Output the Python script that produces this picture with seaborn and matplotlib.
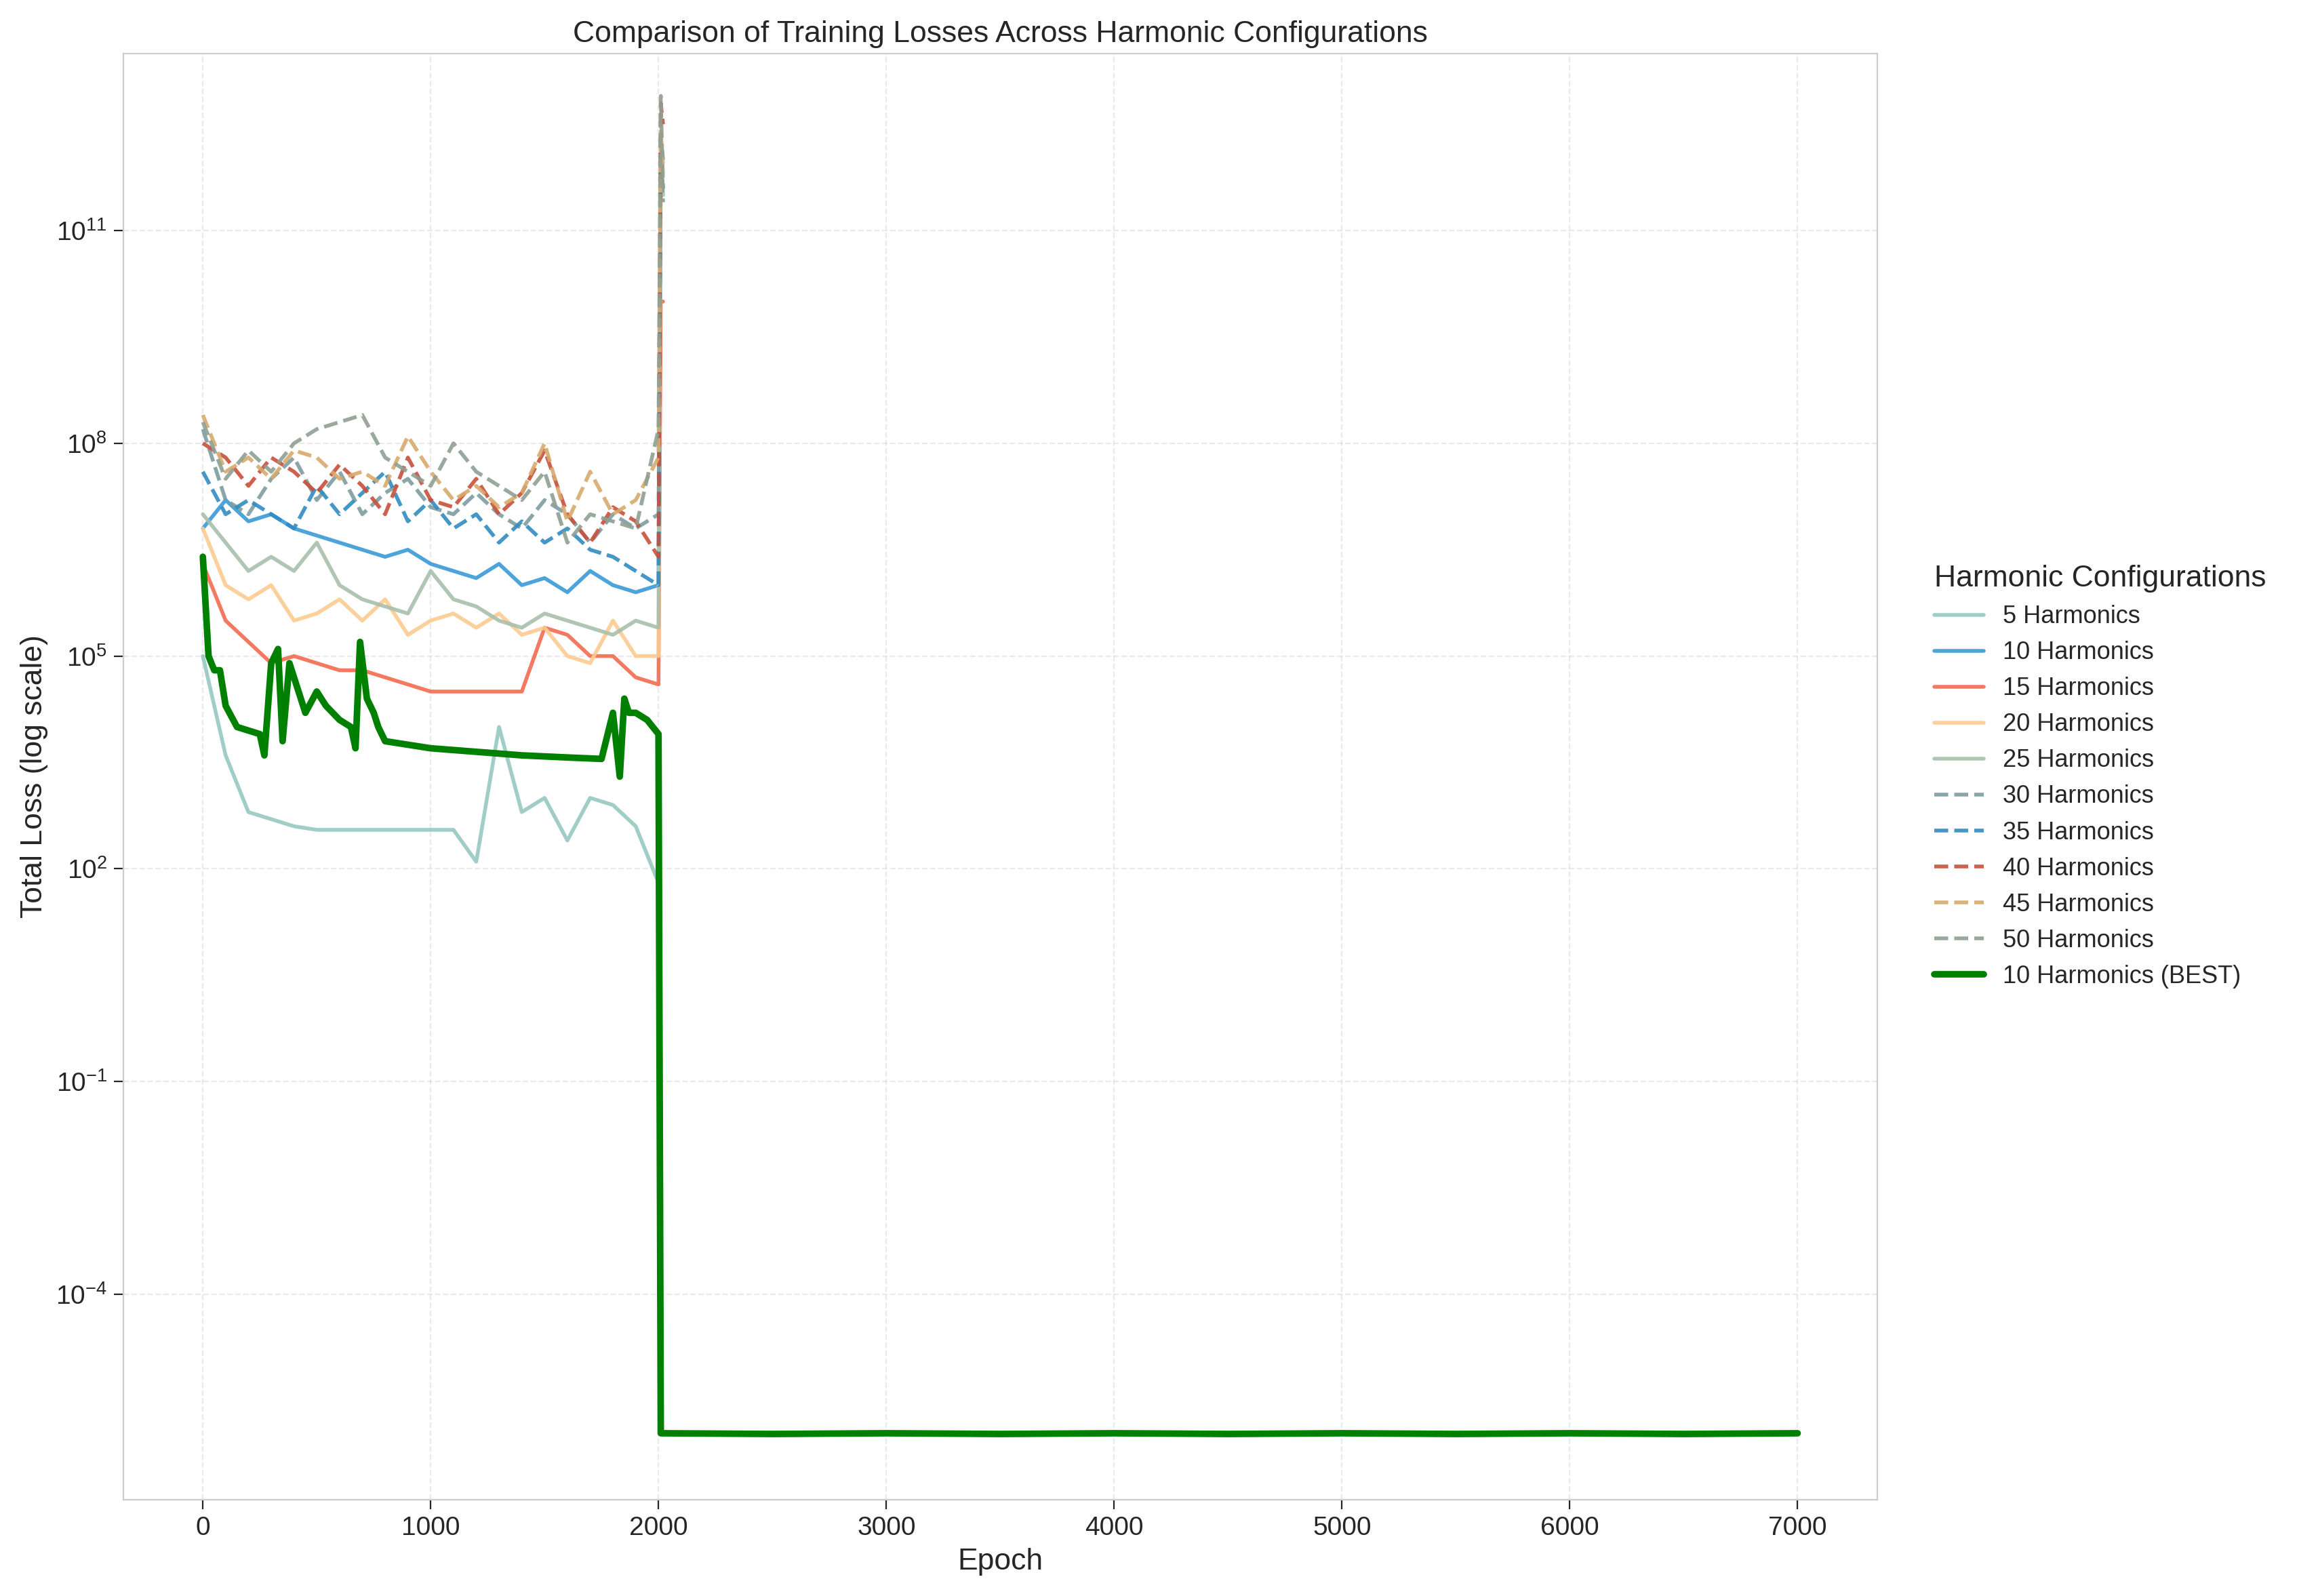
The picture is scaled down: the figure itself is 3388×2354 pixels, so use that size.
import numpy as np
import pandas as pd
import seaborn as sns
import matplotlib.pyplot as plt

# epochs shared by the harmonic runs (last two = divergence spike)
epochs = [0, 100, 200, 300, 400, 500, 600, 700, 800, 900, 1000, 1100, 1200, 1300,
          1400, 1500, 1600, 1700, 1800, 1900, 2000, 2010, 2020]

# log10 of total loss
h5 = [5.0, 3.6, 2.8, 2.7, 2.6, 2.55, 2.55, 2.55, 2.55, 2.55, 2.55, 2.55, 2.1, 4.0, 2.8, 3.0, 2.4, 3.0, 2.9, 2.6, 1.8, np.nan, np.nan]
h10 = [6.8, 7.2, 6.9, 7.0, 6.8, 6.7, 6.6, 6.5, 6.4, 6.5, 6.3, 6.2, 6.1, 6.3, 6.0, 6.1, 5.9, 6.2, 6.0, 5.9, 6.0, 12.0, 11.6]
h15 = [6.3, 5.5, 5.2, 4.9, 5.0, 4.9, 4.8, 4.8, 4.7, 4.6, 4.5, 4.5, 4.5, 4.5, 4.5, 5.4, 5.3, 5.0, 5.0, 4.7, 4.6, 10.0, 10.0]
h20 = [6.8, 6.0, 5.8, 6.0, 5.5, 5.6, 5.8, 5.5, 5.8, 5.3, 5.5, 5.6, 5.4, 5.6, 5.3, 5.4, 5.0, 4.9, 5.5, 5.0, 5.0, 12.3, 11.8]
h25 = [7.0, 6.6, 6.2, 6.4, 6.2, 6.6, 6.0, 5.8, 5.7, 5.6, 6.2, 5.8, 5.7, 5.5, 5.4, 5.6, 5.5, 5.4, 5.3, 5.5, 5.4, 12.0, 11.5]
h30 = [8.2, 7.2, 7.0, 7.5, 7.8, 7.2, 7.6, 7.0, 7.3, 7.5, 7.1, 7.0, 7.3, 7.0, 6.8, 7.2, 7.0, 6.6, 7.0, 6.8, 7.0, 12.0, 11.4]
h35 = [7.6, 7.0, 7.2, 7.0, 6.8, 7.4, 7.0, 7.3, 7.6, 6.9, 7.2, 6.8, 7.0, 6.6, 6.9, 6.6, 6.8, 6.5, 6.4, 6.2, 6.0, 12.3, 12.0]
h40 = [8.0, 7.8, 7.4, 7.8, 7.6, 7.3, 7.7, 7.4, 7.0, 7.8, 7.2, 7.1, 7.5, 7.0, 7.3, 7.9, 7.0, 6.6, 7.1, 6.9, 6.4, 12.8, 12.5]
h45 = [8.4, 7.6, 7.8, 7.5, 7.9, 7.8, 7.5, 7.6, 7.4, 8.1, 7.6, 7.2, 7.4, 7.1, 7.3, 8.0, 6.9, 7.6, 7.0, 7.2, 7.8, 12.4, 11.9]
h50 = [8.3, 7.5, 7.9, 7.6, 8.0, 8.2, 8.3, 8.4, 7.8, 7.6, 7.4, 8.0, 7.6, 7.4, 7.2, 7.6, 6.6, 7.0, 6.9, 6.8, 8.2, 12.9, 11.6]

best_epochs = [0, 25, 50, 75, 100, 150, 200, 250, 270, 300, 330, 350, 380, 400, 450, 500, 540, 600, 650,
               670, 690, 720, 750, 770, 800, 1000, 1200, 1400, 1600, 1750, 1800, 1830, 1850, 1870, 1900,
               1950, 2000, 2010, 2500, 3000, 3500, 4000, 4500, 5000, 5500, 6000, 6500, 7000]
best = [6.4, 5.0, 4.8, 4.8, 4.3, 4.0, 3.95, 3.9, 3.6, 4.9, 5.1, 3.8, 4.9, 4.7, 4.2, 4.5, 4.3, 4.1, 4.0,
        3.7, 5.2, 4.4, 4.2, 4.0, 3.8, 3.7, 3.65, 3.6, 3.57, 3.55, 4.2, 3.3, 4.4, 4.2, 4.2,
        4.1, 3.9, -5.96, -5.97, -5.96, -5.97, -5.96, -5.97, -5.96, -5.97, -5.96, -5.97, -5.96]

names = ['5 Harmonics', '10 Harmonics', '15 Harmonics', '20 Harmonics', '25 Harmonics',
         '30 Harmonics', '35 Harmonics', '40 Harmonics', '45 Harmonics', '50 Harmonics']
series = [h5, h10, h15, h20, h25, h30, h35, h40, h45, h50]
colors = ['#96c8c0', '#3a9ad6', '#f26b50', '#fdca8f', '#a8bfac',
          '#7f9ca0', '#2f8cc0', '#c9503a', '#d8aa6e', '#8fa092']

sns.set_style('ticks')
plt.rcParams['font.family'] = ['Liberation Sans', 'DejaVu Sans']
fig, ax = plt.subplots(figsize=(16.94, 11.77), dpi=200)

for i, (name, vals) in enumerate(zip(names, series)):
    df = pd.DataFrame({'epoch': epochs, 'loss': 10 ** np.array(vals)})
    sns.lineplot(data=df, x='epoch', y='loss', ax=ax, color=colors[i], lw=2,
                 linestyle='-' if i < 5 else '--', label=name, alpha=0.9)

df_best = pd.DataFrame({'epoch': best_epochs, 'loss': 10 ** np.array(best)})
sns.lineplot(data=df_best, x='epoch', y='loss', ax=ax, color='green', lw=3.5, label='10 Harmonics (BEST)')

ax.set_yscale('log')
ax.set_ylim(10 ** -6.9, 10 ** 13.5)
ax.set_yticks([1e-4, 1e-1, 1e2, 1e5, 1e8, 1e11])
ax.set_xlim(-350, 7350)
ax.grid(True, linestyle='--', alpha=0.4)
for s in ax.spines.values():
    s.set_color('#cccccc')
ax.tick_params(labelsize=14, length=5)
ax.set_xlabel('Epoch', fontsize=16)
ax.set_ylabel('Total Loss (log scale)', fontsize=16)
ax.set_title('Comparison of Training Losses Across Harmonic Configurations', fontsize=16)
leg = ax.legend(title='Harmonic Configurations', loc='center left', bbox_to_anchor=(1.02, 0.5),
                frameon=False, fontsize=13, title_fontsize=16)
leg._legend_box.align = 'left'
plt.tight_layout()
plt.savefig('out.png', dpi=200)
